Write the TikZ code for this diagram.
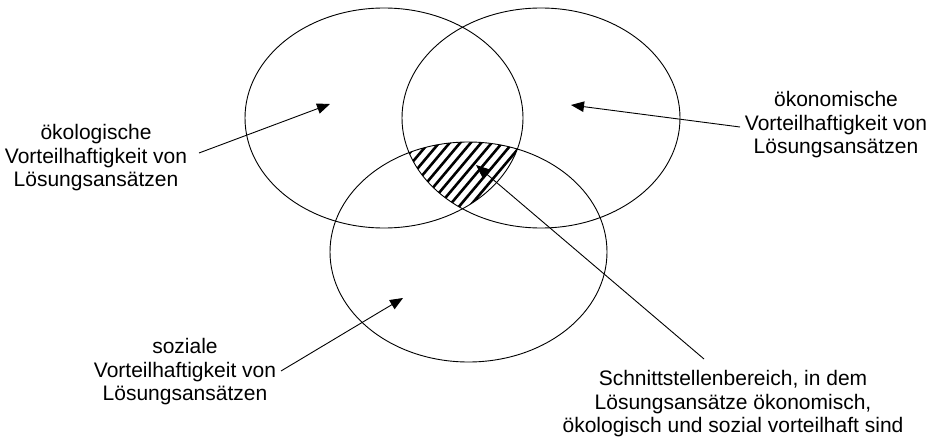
\documentclass[tikz,border=0pt]{standalone}
\usepackage{fontspec}
\setmainfont{Liberation Sans}
\usetikzlibrary{arrows.meta}
\begin{document}
\begin{tikzpicture}[x=1pt,y=-1pt,
  venn/.style={line width=0.9pt},
  lbl/.style={align=center, font=\fontsize{21}{23.5}\selectfont, inner sep=0pt},
  pointer/.style={line width=0.9pt, -{Triangle[length=13pt,width=10.5pt]}},
  hatchline/.style={line width=2.6pt}]
\useasboundingbox (0,0) rectangle (929,441);
% circles
\coordinate (cA) at (384,118);
\coordinate (cB) at (541,118);
\coordinate (cC) at (468.5,252);
\draw[venn] (cA) ellipse [x radius=139, y radius=110];
\draw[venn] (cB) ellipse [x radius=139, y radius=110];
\draw[venn] (cC) ellipse [x radius=138.5, y radius=110];
% hatched intersection
\begin{scope}
  \clip (cA) ellipse [x radius=139, y radius=110];
  \clip (cB) ellipse [x radius=139, y radius=110];
  \clip (cC) ellipse [x radius=138.5, y radius=110];
  \foreach \i in {0,...,22} \draw[hatchline] ({320+\i*10.5},222) -- ++(80,-95);
\end{scope}
% labels
\node[lbl] (oeko) at (96,158) {ökologische\\Vorteilhaftigkeit von\\Lösungsansätzen};
\node[lbl] (oekon) at (836,125) {ökonomische\\Vorteilhaftigkeit von\\Lösungsansätzen};
\node[lbl] (soz) at (185,372) {soziale\\Vorteilhaftigkeit von\\Lösungsansätzen};
\node[lbl] (schnitt) at (733,404) {Schnittstellenbereich, in dem\\Lösungsansätze ökonomisch,\\ökologisch und sozial vorteilhaft sind};
% arrow ends
\coordinate (oekoS) at (199,153);
\coordinate (oekoT) at (330,104);
\coordinate (oekonS) at (740,127);
\coordinate (oekonT) at (571,105);
\coordinate (sozS) at (281,371);
\coordinate (sozT) at (403,298);
\coordinate (schnittS) at (704,359);
\coordinate (schnittT) at (476,165);
\draw[pointer] (oekoS) -- (oekoT);
\draw[pointer] (oekonS) -- (oekonT);
\draw[pointer] (sozS) -- (sozT);
\draw[pointer] (schnittS) -- (schnittT);
\end{tikzpicture}
\end{document}
